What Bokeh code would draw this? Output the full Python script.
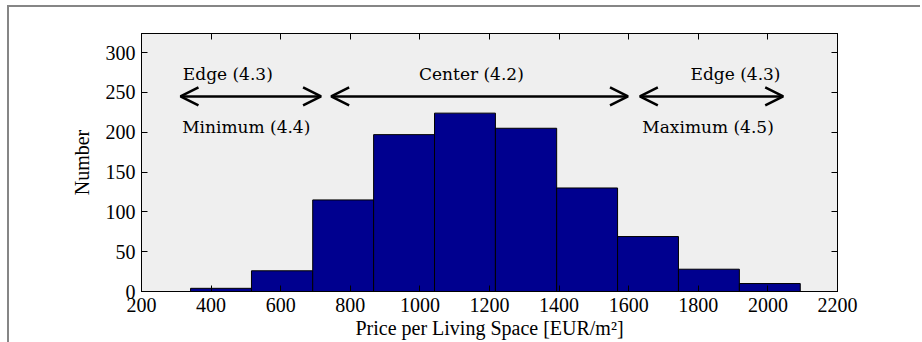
from bokeh.plotting import figure
from bokeh.models import ColumnDataSource, Arrow, OpenHead, LinearAxis, FixedTicker, Range1d, Label
from bokeh.embed import file_html
from bokeh.resources import INLINE

# Histogram bins (EUR/m²) and counts
bin_left = [341, 516, 692, 867, 1042, 1217, 1393, 1568, 1743, 1918]
bin_right = [516, 692, 867, 1042, 1217, 1393, 1568, 1743, 1918, 2093]
counts = [4, 26, 115, 197, 224, 205, 130, 69, 28, 10]

x_ticks = [200, 400, 600, 800, 1000, 1200, 1400, 1600, 1800, 2000, 2200]
y_ticks = [0, 50, 100, 150, 200, 250, 300]

# Region arrows
arrow_start = [312, 745, 1632]
arrow_end = [716, 1598, 2044]
arrow_level = [245, 245, 245]

# Region labels
label_text = ["Edge (4.3)", "Minimum (4.4)", "Center (4.2)", "Edge (4.3)", "Maximum (4.5)"]
label_x = [448, 501, 1148, 1907, 1828]
label_y = [273, 207, 273, 273, 207]

FONT = "Liberation Serif"
FS = "20px"
LABEL_FONT = "DejaVu Serif"
LABEL_FS = "17px"

p = figure(width=920, height=342, x_range=Range1d(200, 2200), y_range=Range1d(0, 324),
           output_backend="svg", toolbar_location=None,
           min_border_left=141, min_border_right=83, min_border_top=33, min_border_bottom=51,
           background_fill_color="#efefef", border_fill_color=None)
p.styles = {"background": "linear-gradient(#868686,#868686) 7px 5px / 2px 100% no-repeat, "
                          "linear-gradient(#868686,#868686) 7px 5px / 100% 2px no-repeat, white"}
p.outline_line_color = "black"
p.outline_line_width = 1
p.grid.visible = False

bars = ColumnDataSource(dict(left=bin_left, right=bin_right, top=counts, bottom=[0] * len(counts)))
p.quad(left="left", right="right", top="top", bottom="bottom", source=bars,
       fill_color="#00008f", line_color="black", line_width=1)

arrows = ColumnDataSource(dict(xs=arrow_start, xe=arrow_end, y=arrow_level))
p.add_layout(Arrow(start=OpenHead(size=18, line_width=2.5, line_color="black"),
                   end=OpenHead(size=18, line_width=2.5, line_color="black"),
                   x_start="xs", y_start="y", x_end="xe", y_end="y", source=arrows,
                   line_width=2.5, line_color="black"))

for tx, lx, ly in zip(label_text, label_x, label_y):
    p.add_layout(Label(x=lx, y=ly, text=tx, text_align="center", text_baseline="middle",
                       text_font=LABEL_FONT, text_font_size=LABEL_FS, text_color="black"))

def style_axis(ax, show_labels):
    ax.major_tick_in = 6
    ax.major_tick_out = 0
    ax.minor_tick_in = 0
    ax.minor_tick_out = 0
    ax.axis_line_color = "black"
    ax.major_tick_line_color = "black"
    ax.major_label_text_font = FONT
    ax.major_label_text_font_size = FS
    ax.major_label_text_color = "black"
    ax.axis_label_text_font = FONT
    ax.axis_label_text_font_size = FS
    ax.axis_label_text_font_style = "normal"
    ax.axis_label_text_color = "black"
    if not show_labels:
        ax.major_label_text_font_size = "0px"
        ax.major_label_text_color = None

xa = p.xaxis[0]
xa.ticker = FixedTicker(ticks=x_ticks)
xa.axis_label = "Price per Living Space [EUR/m²]"
style_axis(xa, True)
xa.major_label_standoff = 6
xa.axis_label_standoff = 2

ya = p.yaxis[0]
ya.ticker = FixedTicker(ticks=y_ticks)
ya.axis_label = "Number"
style_axis(ya, True)
ya.major_label_standoff = 6
ya.axis_label_standoff = 10

top_ax = LinearAxis(ticker=FixedTicker(ticks=x_ticks))
style_axis(top_ax, False)
p.add_layout(top_ax, "above")
right_ax = LinearAxis(ticker=FixedTicker(ticks=y_ticks))
style_axis(right_ax, False)
p.add_layout(right_ax, "right")

open("out.html", "w").write(file_html(p, INLINE))
